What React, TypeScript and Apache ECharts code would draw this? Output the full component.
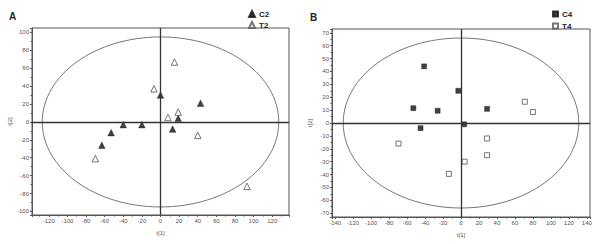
import React, { useEffect, useRef } from 'react';
import * as echarts from 'echarts';

// Panel A (score plot, week 2)
const c2: number[][] = [[0, 30], [43, 21], [19, 4], [13, -8], [-20, -3], [-40, -3], [-53, -12], [-63, -26]];
const t2: number[][] = [[15, 67], [-7, 37], [19, 11], [8, 5], [40, -15], [-70, -41], [93, -72]];
// Panel B (score plot, week 4)
const c4: number[][] = [[-41, 44], [-3, 25], [-53, 11.5], [-26, 9.5], [29, 11], [3.5, -1], [-45, -4]];
const t4: number[][] = [[71, 16.5], [80, 8.5], [29, -12], [29, -25], [4, -30], [-13.5, -39.5], [-69.5, -16]];

// Axis extents and label steps
const xRangeA = [-138, 138];
const yRangeA = [-104, 105];
const xRangeB = [-143.5, 143.5];
const yRangeB = [-73, 73];
const xStepA = 20, yStepA = 20, xStepB = 20, yStepB = 10;
// Hotelling T2 ellipse semi-axes [x, y]
const ellipseA = [127, 95];
const ellipseB = [131, 66];

const FONT = 'Liberation Sans, Arial, sans-serif';

function axis(range: number[], step: number, name: string, gridIndex: number, isY: boolean) {
  const span = range[1] - range[0];
  return {
    type: 'value',
    gridIndex,
    min: range[0],
    max: range[1],
    splitNumber: Math.round(span / step),
    name,
    nameLocation: 'middle',
    nameGap: isY ? 19 : 15,
    nameRotate: isY ? 90 : 0,
    nameTextStyle: { fontSize: 6, color: '#555', fontFamily: FONT },
    axisLine: { show: true, onZero: false, lineStyle: { color: '#555', width: 1 } },
    axisTick: { show: true, length: 2, lineStyle: { color: '#555' } },
    minorTick: { show: true, splitNumber: 2, length: 1.5, lineStyle: { color: '#555' } },
    splitLine: { show: false },
    axisLabel: {
      fontSize: 6,
      color: '#555',
      fontFamily: FONT,
      margin: 3,
      formatter: (v: number) => (Math.abs(Math.round(v / step) * step - v) < 1e-6 ? String(Math.round(v)) : ''),
    },
  };
}

const crossLine = () => ({
  silent: true,
  symbol: 'none',
  label: { show: false },
  lineStyle: { color: '#333', width: 1.3, type: 'solid' },
  data: [{ xAxis: 0 }, { yAxis: 0 }],
});

export default function App() {
  const ref = useRef<HTMLDivElement>(null);
  useEffect(() => {
    if (!ref.current) return;
    const chart = echarts.init(ref.current, undefined, { renderer: 'svg' });
    const filled = { color: '#111', borderColor: '#111', borderWidth: 0.5 };
    const open = { color: '#fff', borderColor: '#555', borderWidth: 1 };
    const legendText = { fontSize: 8, fontWeight: 'bold', color: '#222', fontFamily: FONT, padding: [0, 0, 0, -1] };
    chart.setOption({
      animation: false,
      textStyle: { fontFamily: FONT },
      title: [
        { text: 'A', left: 4, top: 6, textStyle: { fontSize: 10, fontWeight: 'bold', color: '#222', fontFamily: FONT } },
        { text: 'B', left: 305, top: 7, textStyle: { fontSize: 10, fontWeight: 'bold', color: '#222', fontFamily: FONT } },
      ],
      legend: [
        {
          data: [{ name: 'C2', icon: 'triangle' }, { name: 'T2', icon: 'triangle' }],
          orient: 'vertical', left: 243, top: 5, itemWidth: 6, itemHeight: 6, itemGap: 3, textStyle: legendText,
        },
        {
          data: [{ name: 'C4', icon: 'rect' }, { name: 'T4', icon: 'rect' }],
          orient: 'vertical', left: 547, top: 5, itemWidth: 5, itemHeight: 5, itemGap: 4, textStyle: legendText,
        },
      ],
      grid: [
        { left: 32, top: 28, width: 257, height: 187, show: true, borderColor: '#555', borderWidth: 1, backgroundColor: '#fff' },
        { left: 332, top: 29, width: 258, height: 188, show: true, borderColor: '#555', borderWidth: 1, backgroundColor: '#fff' },
      ],
      xAxis: [axis(xRangeA, xStepA, 't[1]', 0, false), axis(xRangeB, xStepB, 't[1]', 1, false)],
      yAxis: [axis(yRangeA, yStepA, 't[2]', 0, true), axis(yRangeB, yStepB, 't[2]', 1, true)],
      series: [
        { name: 'C2', type: 'scatter', xAxisIndex: 0, yAxisIndex: 0, symbol: 'triangle', symbolSize: 6.5, itemStyle: filled, data: c2, markLine: crossLine(), z: 3 },
        { name: 'T2', type: 'scatter', xAxisIndex: 0, yAxisIndex: 0, symbol: 'triangle', symbolSize: 6.5, itemStyle: open, data: t2, z: 3 },
        { name: 'C4', type: 'scatter', xAxisIndex: 1, yAxisIndex: 1, symbol: 'rect', symbolSize: 5, itemStyle: filled, data: c4, markLine: crossLine(), z: 3 },
        { name: 'T4', type: 'scatter', xAxisIndex: 1, yAxisIndex: 1, symbol: 'rect', symbolSize: 5, itemStyle: open, data: t4, z: 3 },
      ],
    });
    const mk = (gi: number, ell: number[]) => {
      const c = chart.convertToPixel({ gridIndex: gi }, [0, 0]) as number[];
      const e = chart.convertToPixel({ gridIndex: gi }, [ell[0], ell[1]]) as number[];
      return {
        type: 'ellipse',
        silent: true,
        z: 2,
        shape: { cx: c[0], cy: c[1], rx: Math.abs(e[0] - c[0]), ry: Math.abs(e[1] - c[1]) },
        style: { fill: 'none', stroke: '#777', lineWidth: 1 },
      };
    };
    chart.setOption({ graphic: [mk(0, ellipseA), mk(1, ellipseB)] });
    return () => chart.dispose();
  }, []);
  return <div ref={ref} style={{ position: 'fixed', left: 0, top: 0, width: 600, height: 244, background: '#fff' }} />;
}
